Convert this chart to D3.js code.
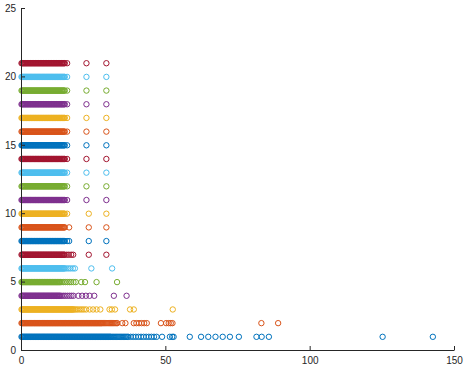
<!DOCTYPE html>
<html>
<head>
<meta charset="utf-8">
<script src="https://cdn.jsdelivr.net/npm/d3@7"></script>
<style>
  html, body { margin: 0; padding: 0; background: #fff; }
  svg { display: block; }
  .axis text { font-family: "Liberation Sans", Arial, Helvetica, sans-serif; font-size: 10px; fill: #262626; }
  .axis path, .axis line { stroke: #262626; }
</style>
</head>
<body>
<svg id="chart" width="466" height="371"></svg>
<script>
// ---- data ----
const xTicks = [0, 50, 100, 150];
const yTicks = [0, 5, 10, 15, 20, 25];
const colors = ["#0072BD", "#D95319", "#EDB120", "#7E2F8E", "#77AC30", "#4DBEEE", "#A2142F"];

// dense clusters (hundreds of overlapping points in the original)
const dense135 = [0,0.25,0.5,0.75,1,1.25,1.5,1.75,2,2.25,2.5,2.75,3,3.25,3.5,3.75,4,4.25,4.5,4.75,5,5.25,5.5,5.75,6,6.25,6.5,6.75,7,7.25,7.5,7.75,8,8.25,8.5,8.75,9,9.25,9.5,9.75,10,10.25,10.5,10.75,11,11.25,11.5,11.75,12,12.25,12.5,12.75,13,13.25,13.5];
const dense15 = [...dense135, 13.75, 14, 14.25, 14.5, 14.75, 15];
const dense15to27 = [15.25,15.5,15.75,16,16.25,16.5,16.75,17,17.25,17.5,17.75,18,18.25,18.5,18.75,19,19.25,19.5,19.75,20,20.25,20.5,20.75,21,21.25,21.5,21.75,22,22.25,22.5,22.75,23,23.25,23.5,23.75,24,24.25,24.5,24.75,25,25.25,25.5,25.75,26,26.25,26.5,26.75,27];

const row1 = [...dense15, ...dense15to27, 27.25,27.5,27.75,28,28.25,28.5,28.75,29,29.25,29.5,29.75,30,30.25,30.5,30.75,31,
  31.4,31.8,32.2,32.6,33,33.4,33.8,34.2,34.6,35,35.4,35.8,36.2,36.6,37,
  37.8,38.7,39.6,40.5,41.4,42.3,43.2,44.1,45,45.9,46.8,
  48.7, 51.4, 52.2, 52.7, 58.3, 62.2, 64.7, 67.2, 69.7, 72.2, 75.3, 81.4, 83.2, 85.7, 125.1, 142.5];
const row2 = [...dense15, ...dense15to27, 27.25,27.5,27.75,28,
  28.4,28.8,29.2,29.6,30,30.4,30.8,31.2,31.6,32,32.4,32.8,33.2, 34.9, 36, 38.9, 39.8, 40.7, 41.6, 42.5, 43.4, 48.3, 50.1, 51, 51.7, 52.3, 83.1, 88.9];
const row3 = [...dense15, 15.25,15.5,15.75,16,16.25,16.5,16.75,17,17.25,17.5,17.75,18,18.4,
  18.9,19.5,20.2,20.9,21.6,22.4, 23.6, 24.8, 26, 27.3, 30.5, 31.3, 32.4, 37.6, 38.9, 52.4];
const row4 = [...dense135, 14,14.6,15.2,15.9,16.6,17.3,18, 19.7, 21, 22.3, 23.6, 25.2, 32, 36.4];
const row5 = [...dense135, 14,14.6,15.2,15.9,16.6,17.2, 18, 18.8, 20.7, 22, 26, 33.1];
const row6 = [...dense15, 15.6, 16.3, 17, 17.8, 18.5, 24.2, 31.4];
const row7 = [...dense15, 15.7, 16.4, 17.2, 17.9, 23.3, 29.4];
const row8 = [...dense15, 15.8, 16.5, 23.3, 29.4];
const row9 = [...dense15, 16.5, 23.3, 29.4];
const row10 = [...dense15, 15.8, 23.3, 29.4];
const row11 = [...dense15, 15.8, 22.5, 29.4];
const row12 = [...dense15, 15.8, 22.5, 29.4];
const row13 = [...dense15, 15.8, 22.5, 29.4];
const row14 = [...dense15, 15.8, 22.5, 29.4];
const row15 = [...dense15, 15.8, 22.5, 29.4];
const row16 = [...dense15, 15.8, 22.5, 29.4];
const row17 = [...dense15, 15.8, 22.5, 29.4];
const row18 = [...dense15, 15.8, 22.5, 29.4];
const row19 = [...dense15, 15.8, 22.5, 29.4];
const row20 = [...dense15, 15.8, 22.5, 29.4];
const row21 = [...dense15, 15.8, 22.5, 29.4];
const rowLevels = [1,2,3,4,5,6,7,8,9,10,11,12,13,14,15,16,17,18,19,20,21];
const rows = [row1,row2,row3,row4,row5,row6,row7,row8,row9,row10,row11,row12,row13,row14,row15,row16,row17,row18,row19,row20,row21];

// ---- drawing ----
const svg = d3.select("#chart");
const x = d3.scaleLinear().domain([0, 150]).range([21, 454]);
const y = d3.scaleLinear().domain([0, 25]).range([350, 8]);

const series = rows.map((vals, i) => ({ level: rowLevels[i], color: colors[i % colors.length], vals }));

const g = svg.append("g");
series.forEach(s => {
  g.append("g")
    .selectAll("circle")
    .data(s.vals)
    .join("circle")
    .attr("cx", d => x(d) + 0.5)
    .attr("cy", y(s.level) + 0.5)
    .attr("r", 2.7)
    .attr("fill", "none")
    .attr("stroke", s.color)
    .attr("stroke-width", 1);
});

svg.append("g")
  .attr("class", "axis")
  .attr("transform", "translate(0,350)")
  .call(d3.axisBottom(x).tickValues(xTicks).tickSizeInner(-4).tickSizeOuter(0).tickPadding(7))
  .call(g => g.selectAll("text").attr("dy", "0.71em"));

svg.append("g")
  .attr("class", "axis")
  .attr("transform", "translate(21,0)")
  .call(d3.axisLeft(y).tickValues(yTicks).tickSizeInner(-4).tickSizeOuter(0).tickPadding(5));
</script>
</body>
</html>
